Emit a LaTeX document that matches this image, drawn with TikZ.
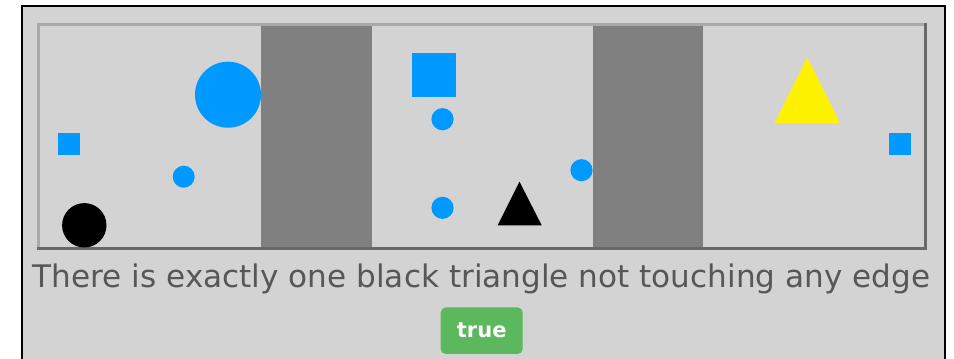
\documentclass[tikz,border=0pt]{standalone}
\usepackage{fontspec}
\setmainfont{DejaVu Sans}
\definecolor{boardgray}{HTML}{D3D3D3}
\definecolor{bandgray}{HTML}{808080}
\definecolor{edgelight}{HTML}{A9A9A9}
\definecolor{edgedark}{HTML}{696969}
\definecolor{shapeblue}{HTML}{0099FF}
\definecolor{captiongray}{HTML}{575757}
\definecolor{truegreen}{HTML}{5CB85C}

\begin{document}
\begin{tikzpicture}[x=1pt, y=-1pt,
    blueshape/.style={fill=shapeblue},
    caption/.style={anchor=base, inner sep=0pt, text=captiongray,
        font=\fontsize{31.1}{36}\selectfont},
    badge/.style={fill=truegreen, rounded corners=5pt, minimum width=82pt,
        minimum height=46.5pt, inner sep=0pt, text=white,
        font=\fontsize{21}{24}\selectfont\bfseries}]
    \useasboundingbox (0,0) rectangle (954,359);
    \fill[white] (0,0) rectangle (954,359);

    \fill[boardgray] (22,6) rectangle (945,372);
    \draw[line width=2.5pt] (22,372) -- (22,6) -- (945,6) -- (945,372);

    \fill[bandgray] (261,26) rectangle (371.5,247.5);
    \fill[bandgray] (592.5,26) rectangle (703,247.5);

    \draw[edgelight, line width=3pt] (38.5,250) -- (38.5,24.5) -- (927,24.5);
    \draw[edgedark, line width=3pt] (925.5,23) -- (925.5,248.8) -- (37,248.8);

    \fill[blueshape] (58,132.5) rectangle (80,154.5);
    \fill[blueshape] (228,94.7) circle (33);
    \fill[blueshape] (183.7,176.7) circle (11);
    \fill (84.3,225.3) circle (22.2);

    \fill[blueshape] (411.5,53) rectangle (455.5,97);
    \fill[blueshape] (442.5,119.2) circle (11.1);
    \fill[blueshape] (442.5,207.8) circle (11.1);
    \fill (519.5,181.7) -- (541.7,225.3) -- (497.7,225.3) -- cycle;
    \fill[blueshape] (581.5,170.2) circle (11.1);

    \fill[yellow] (807.2,57.3) -- (840,123.3) -- (774.4,123.3) -- cycle;
    \fill[blueshape] (889.2,132.8) rectangle (911.2,154.8);

    \node[caption] (rule) at (481.5,287) {There is exactly one black triangle not touching any edge};
    \node[badge] (verdict) at (481.7,330.7) {true};
\end{tikzpicture}
\end{document}
